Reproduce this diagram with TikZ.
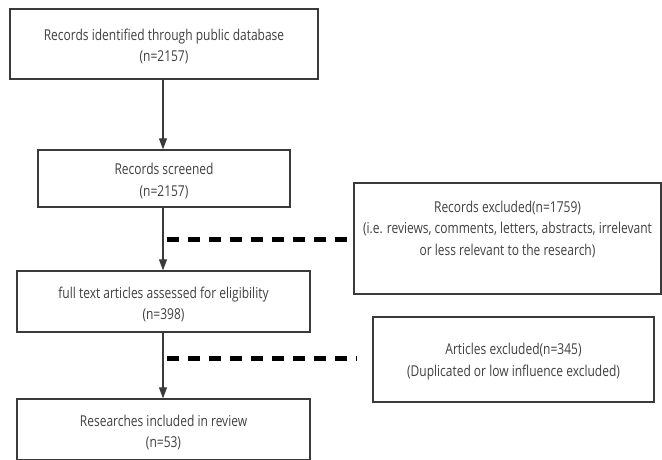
\documentclass[tikz,border=0pt]{standalone}
\usepackage{fontspec}
\setmainfont{Open Sans}[FakeStretch=0.8]
\usetikzlibrary{arrows.meta}
\definecolor{boxgray}{HTML}{3A3A3A}
\definecolor{txtgray}{HTML}{404040}
\tikzset{
	box/.style={draw=boxgray, line width=1.4pt, align=center, text=txtgray, font=\fontsize{15}{21.5}\selectfont, inner sep=0pt, text height=40pt, text depth=4pt},
	flow/.style={draw=boxgray, line width=1.2pt, -{Triangle[length=11pt,width=8pt]}},
	excl/.style={draw=black, line width=5pt, dash pattern=on 12pt off 9pt, shorten >=4pt}
}
\begin{document}
\begin{tikzpicture}[x=1pt,y=-1pt]
			\useasboundingbox (0,0) rectangle (662,460);
			\node[box, minimum width=308pt, minimum height=70pt] at (164,44) (ident) {Records identified through public database\\(n=2157)};
			\node[box, minimum width=252pt, minimum height=57pt] at (164,178.5) (screen) {Records screened\\(n=2157)};
			\node[box, minimum width=293pt, minimum height=61pt] at (163.5,301.5) (full) {full text articles assessed for eligibility\\(n=398)};
			\node[box, minimum width=293pt, minimum height=61pt] at (163.5,429.5) (incl) {Researches included in review\\(n=53)};
			\node[box, minimum width=307pt, minimum height=111pt, text depth=7pt] at (507.5,238.5) (recexcl) {Records excluded(n=1759)\\(i.e. reviews, comments, letters, abstracts, irrelevant\\or less relevant to the research)};
			\node[box, minimum width=281pt, minimum height=85pt, text depth=7pt] at (513.5,359.5) (artexcl) {Articles excluded(n=345)\\(Duplicated or low influence excluded)};
			\draw[flow] (ident.south -| 163,0) -- (screen.north -| 163,0);
			\draw[flow] (screen.south -| 163,0) -- (full.north -| 163,0);
			\draw[flow] (full.south -| 163,0) -- (incl.north -| 163,0);
			\coordinate (d1) at (167,239);
			\coordinate (d2) at (167,358);
			\draw[excl] (d1) -- (recexcl.west |- d1);
			\draw[excl, shorten >=15pt] (d2) -- (artexcl.west |- d2);
		\end{tikzpicture}
\end{document}
